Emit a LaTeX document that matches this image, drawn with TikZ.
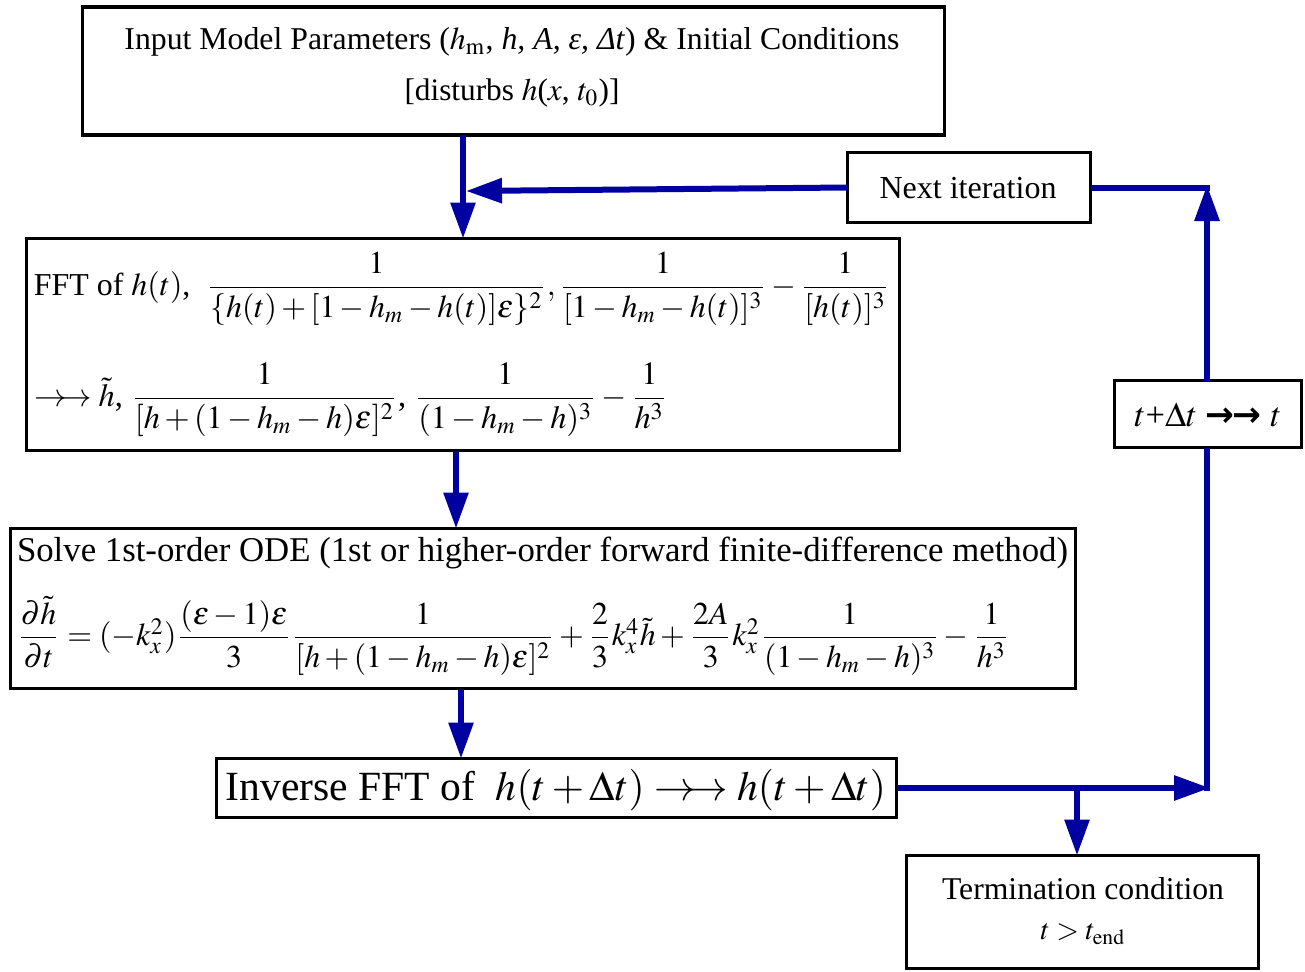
\documentclass[tikz,border=0pt]{standalone}
\usepackage{amsmath}
\usepackage{mathptmx}
\usepackage{graphicx}
\usepackage[no-math]{fontspec}
\setmainfont{Liberation Serif}
\newfontfamily\arrowfont{DejaVu Sans}
\usetikzlibrary{arrows.meta}
\definecolor{flowblue}{RGB}{0,0,160}
\tikzset{
  box/.style={draw, line width=3.5pt, inner sep=0pt, outer sep=0pt},
  flow/.style={draw=flowblue, line width=6pt},
  flowarrow/.style={flow, -{Triangle[length=36pt,width=24pt]}},
  txt/.style={inner sep=0pt, outer sep=0pt},
}
\begin{document}
\begin{tikzpicture}[x=1pt,y=-1pt]
\useasboundingbox (0,0) rectangle (1305,971);
% boxes
\node[box, minimum width=862pt, minimum height=128pt] (input) at (513.5,71) {};
\node[box, minimum width=873pt, minimum height=212pt] (fft) at (463,344.5) {};
\node[box, minimum width=1065pt, minimum height=160pt] (solve) at (543,608.5) {};
\node[box, minimum width=680pt, minimum height=59pt] (inv) at (556.5,788) {};
\node[box, minimum width=352pt, minimum height=113pt] (term) at (1082.5,912) {};
\node[box, minimum width=243pt, minimum height=70pt] (next) at (969,187.5) {};
\node[box, minimum width=187pt, minimum height=67pt] (upd) at (1208,414) {};
% texts
\node[txt] (inputA) at (512,42) {\resizebox{775pt}{!}{Input Model Parameters ($h_{\mathrm{m}}$, \textit{h, A, ε, Δt}) \& Initial Conditions}};
\node[txt] (inputB) at (512,93) {\resizebox{215pt}{!}{[disturbs $h$($x$, $t_{\mathrm{0}}$)]}};
\node[txt, anchor=west] (fftA) at (34,289) {\resizebox{856pt}{!}{FFT of $h(t)$,\ \ $\dfrac{1}{\{h(t)+[1-h_m-h(t)]\varepsilon\}^2},\dfrac{1}{[1-h_m-h(t)]^3}-\dfrac{1}{[h(t)]^3}$}};
\node[txt, anchor=west] (fftB) at (34,400) {\resizebox{634pt}{!}{$\rightarrow\!\!\rightarrow\tilde{h}$,\ $\dfrac{1}{[h+(1-h_m-h)\varepsilon]^2}$,\ $\dfrac{1}{(1-h_m-h)^3}-\dfrac{1}{h^3}$}};
\node[txt, anchor=west] (solveA) at (17,553) {\resizebox{1051pt}{!}{Solve 1st-order ODE (1st or higher-order forward finite-difference method)}};
\node[txt, anchor=west] (solveB) at (17,636) {\resizebox{993pt}{!}{$\dfrac{\partial\tilde{h}}{\partial t}=(-k_x^2)\dfrac{(\varepsilon-1)\varepsilon}{3}\dfrac{1}{[h+(1-h_m-h)\varepsilon]^2}+\dfrac{2}{3}k_x^4\tilde{h}+\dfrac{2A}{3}k_x^2\dfrac{1}{(1-h_m-h)^3}-\dfrac{1}{h^3}$}};
\node[txt] (invA) at (556,790) {\resizebox{660pt}{!}{Inverse FFT of\ \ $h(t+\Delta t)\rightarrow\!\!\rightarrow h(t+\Delta t)$}};
\node[txt] (termA) at (1083,889) {\resizebox{282pt}{!}{Termination condition}};
\node[txt] (termB) at (1083,934) {\resizebox{85pt}{!}{$t>t_{\mathrm{end}}$}};
\node[txt] (nextA) at (968,188) {\resizebox{177pt}{!}{Next iteration}};
\node[txt] (updA) at (1208,415) {\resizebox{147pt}{!}{$t$+$\Delta t$ {\arrowfont\bfseries →\kern-0.05em→} $t$}};
% junction coordinates
\coordinate (jTop) at (1207,188);
\coordinate (jBot) at (1207,788);
\coordinate (jTerm) at (1077,788);
\coordinate (jIn) at (466,191);
% connectors
\draw[flowarrow] (input.south -| 463,0) -- (fft.north -| 463,0);
\draw[flowarrow] (next.west) -- (jIn);
\draw[flow] (next.east |- jTop) -- ([xshift=3pt]jTop);
\draw[flowarrow] (upd.north -| jTop) -- ([yshift=3pt]jTop);
\draw[flow] (upd.south -| jBot) -- ([yshift=-3pt]jBot);
\draw[flowarrow] (inv.east |- jBot) -- ([xshift=3pt]jBot);
\draw[flowarrow] (fft.south -| 456,0) -- (solve.north -| 456,0);
\draw[flowarrow] (solve.south -| 461,0) -- (inv.north -| 461,0);
\draw[flowarrow] (jTerm) -- (term.north -| jTerm);
\end{tikzpicture}
\end{document}
